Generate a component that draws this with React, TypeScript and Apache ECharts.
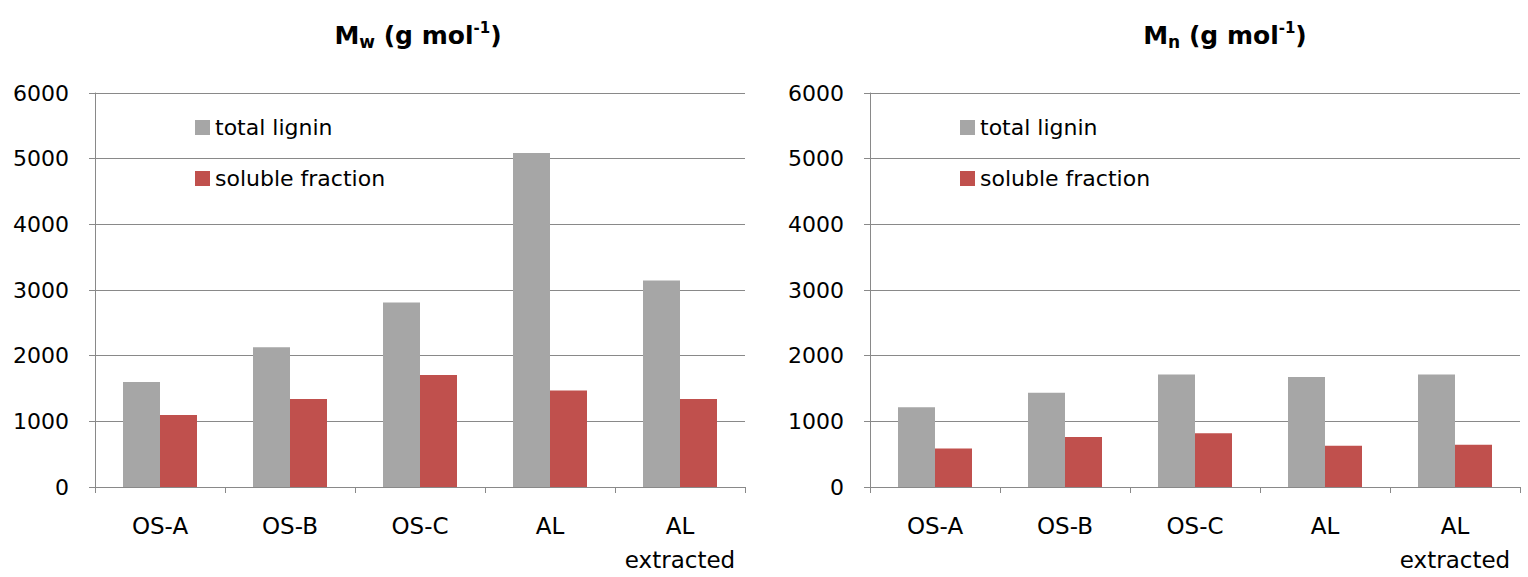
import React, { useEffect, useRef } from "react";
import * as echarts from "echarts";

const categories = ["OS-A", "OS-B", "OS-C", "AL", "AL\nextracted"];
const mwTotal = [1600, 2130, 2810, 5085, 3145];
const mwSoluble = [1095, 1340, 1705, 1470, 1340];
const mnTotal = [1215, 1435, 1715, 1675, 1715];
const mnSoluble = [585, 760, 820, 630, 645];
const seriesNames = ["total lignin", "soluble fraction"];
const yTicks = { min: 0, max: 6000, interval: 1000 };

const FONT = "DejaVu Sans";
const AXIS_COLOR = "#898989";
const GRAY = "#A6A6A6";
const RED = "#C0504D";

function titleText(sub: string) {
  return `{m|M}{s|${sub}}{m| (g mol}{p|-1}{m|)}`;
}

const titleRich = {
  m: { fontFamily: FONT, fontWeight: "bold", fontSize: 25, lineHeight: 30, verticalAlign: "middle", color: "#000" },
  s: { fontFamily: FONT, fontWeight: "bold", fontSize: 17, lineHeight: 20, verticalAlign: "bottom", color: "#000" },
  p: { fontFamily: FONT, fontWeight: "bold", fontSize: 15, lineHeight: 20, verticalAlign: "top", color: "#000" },
};

function xAxis(gridIndex: number) {
  return {
    type: "category",
    gridIndex,
    data: categories,
    axisLine: { show: true, lineStyle: { color: AXIS_COLOR, width: 1 } },
    axisTick: { show: true, length: 6, lineStyle: { color: AXIS_COLOR } },
    axisLabel: { fontFamily: FONT, fontSize: 23, color: "#000", margin: 22, lineHeight: 34, interval: 0 },
    splitLine: { show: false },
  };
}

function yAxis(gridIndex: number) {
  return {
    type: "value",
    gridIndex,
    min: yTicks.min,
    max: yTicks.max,
    interval: yTicks.interval,
    axisLine: { show: true, lineStyle: { color: AXIS_COLOR, width: 1 } },
    axisTick: { show: true, length: 6, lineStyle: { color: AXIS_COLOR } },
    axisLabel: {
      fontFamily: FONT,
      fontSize: 22,
      color: "#000",
      margin: 26,
      formatter: (v: number) => String(v),
    },
    splitLine: { show: true, lineStyle: { color: AXIS_COLOR, width: 1 } },
  };
}

function bar(name: string, data: number[], color: string, idx: number) {
  return {
    type: "bar",
    name,
    data,
    xAxisIndex: idx,
    yAxisIndex: idx,
    barWidth: 37,
    barGap: "0%",
    itemStyle: { color },
    emphasis: { disabled: true },
  };
}

function legend(left: number) {
  return {
    orient: "vertical",
    left,
    top: 110,
    icon: "rect",
    itemWidth: 15,
    itemHeight: 15,
    itemGap: 26,
    selectedMode: false,
    data: seriesNames,
    textStyle: { fontFamily: FONT, fontSize: 22, color: "#000", lineHeight: 25 },
  };
}

export default function App() {
  const ref = useRef<HTMLDivElement>(null);
  useEffect(() => {
    if (!ref.current) return;
    const chart = echarts.init(ref.current, undefined, { renderer: "svg" });
    chart.setOption({
      animation: false,
      backgroundColor: "#fff",
      title: [
        { text: titleText("w"), left: 413, top: 15, textAlign: "center", textStyle: { rich: titleRich } },
        { text: titleText("n"), left: 1220, top: 15, textAlign: "center", textStyle: { rich: titleRich } },
      ],
      legend: [legend(190), legend(955)],
      grid: [
        { left: 95, top: 93, width: 650, height: 400, containLabel: false },
        { left: 870, top: 93, width: 650, height: 400, containLabel: false },
      ],
      xAxis: [xAxis(0), xAxis(1)],
      yAxis: [yAxis(0), yAxis(1)],
      series: [
        bar(seriesNames[0], mwTotal, GRAY, 0),
        bar(seriesNames[1], mwSoluble, RED, 0),
        bar(seriesNames[0], mnTotal, GRAY, 1),
        bar(seriesNames[1], mnSoluble, RED, 1),
      ],
    });
    return () => chart.dispose();
  }, []);
  return (
    <div
      ref={ref}
      style={{ position: "absolute", left: 0, top: 0, width: 1528, height: 577 }}
    />
  );
}
